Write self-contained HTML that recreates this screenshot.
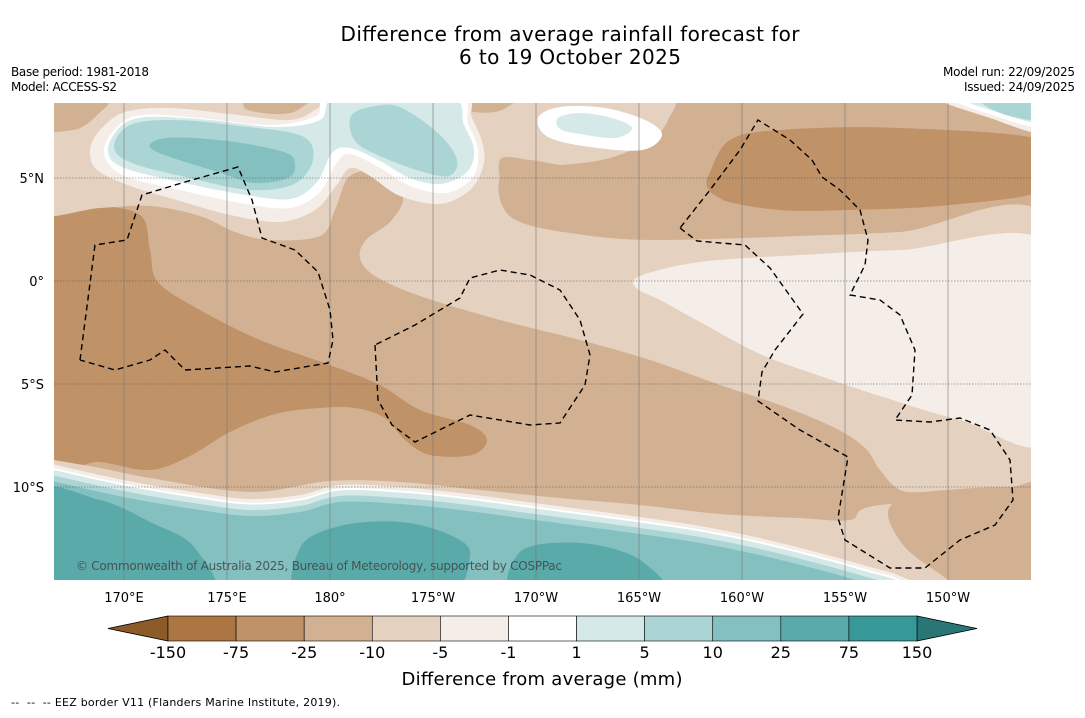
<!DOCTYPE html>
<html><head><meta charset="utf-8"><style>
body{margin:0;background:#fff;width:1085px;height:713px;overflow:hidden;font-family:"Liberation Sans","DejaVu Sans",sans-serif}
svg text{font-family:"DejaVu Sans","Liberation Sans",sans-serif}
</style></head><body>
<svg id="s" width="1085" height="713" viewBox="0 0 1085 713" xmlns="http://www.w3.org/2000/svg">
<defs><clipPath id="mc"><rect x="54" y="103" width="977" height="477"/></clipPath></defs>
<text x="570" y="41" font-size="20" textLength="459" text-anchor="middle">Difference from average rainfall forecast for</text>
<text x="570" y="64" font-size="20" textLength="222" text-anchor="middle">6 to 19 October 2025</text>
<text x="11" y="76" font-size="12" textLength="138">Base period: 1981-2018</text>
<text x="11" y="91" font-size="12" textLength="106">Model: ACCESS-S2</text>
<text x="1075" y="76" font-size="12" text-anchor="end" textLength="132">Model run: 22/09/2025</text>
<text x="1075" y="91" font-size="12" text-anchor="end" textLength="111">Issued: 24/09/2025</text>
<g id="map" clip-path="url(#mc)"></g>
<g id="grid"></g>
<g id="eez" clip-path="url(#mc)"></g>
<text x="76" y="570" font-size="12" textLength="486" fill="#444" opacity="0.85">© Commonwealth of Australia 2025, Bureau of Meteorology, supported by COSPPac</text>
<g id="axes"></g>
<g id="cbar"></g>
<text x="542" y="685" font-size="18" text-anchor="middle" textLength="281">Difference from average (mm)</text>
<text x="11" y="706" font-size="11" xml:space="preserve" textLength="329">--  --  -- EEZ border V11 (Flanders Marine Institute, 2019).</text>
</svg>
<script>
const levelLabels=["-150","-75","-25","-10","-5","-1","1","5","10","25","75","150"];
const levelColors=["#ab7642","#bf9268","#d2b192","#e4d1bf","#f4ede8","#ffffff","#d4e9e8","#abd5d4","#83c0bf","#5aaaaa","#369998"];
const extendColors=["#8d5a29","#2a7676"];
const lonTicks=[170,175,180,185,190,195,200,205,210];
const lonLabels=["170°E","175°E","180°","175°W","170°W","165°W","160°W","155°W","150°W"];
const latTicks=[5,0,-5,-10];
const latLabels=["5°N","0°","5°S","10°S"];
const NS="http://www.w3.org/2000/svg";
const X=lon=>124+(lon-170)*20.6, Y=lat=>281-lat*20.6;
function mk(tag,attrs,parent){const e=document.createElementNS(NS,tag);for(const k in attrs)e.setAttribute(k,attrs[k]);parent.appendChild(e);return e;}
function smooth(p,closed){let d="M"+p[0][0]+","+p[0][1];const n=p.length;for(let i=0;i<(closed?n:n-1);i++){const p0=p[(i-1+n)%n],p1=p[i],p2=p[(i+1)%n],p3=p[(i+2)%n];const a=closed||i>0?p0:p1,b=closed||i<n-2?p3:p2;d+=" C"+(p1[0]+(p2[0]-a[0])/6)+","+(p1[1]+(p2[1]-a[1])/6)+" "+(p2[0]-(b[0]-p1[0])/6)+","+(p2[1]-(b[1]-p1[1])/6)+" "+p2[0]+","+p2[1];}return d+(closed?"Z":"");}
const map=document.getElementById('map');
function area(pts,col,name){const e=mk('path',{d:smooth(pts,true),fill:col},map);}
const bg=mk('rect',{x:54,y:103,width:977,height:477,fill:levelColors[2]},map);


area([[30,205],[90,205],[140,215],[150,250],[158,282],[200,310],[260,340],[330,365],[380,385],[420,410],[470,425],[487,440],[472,455],[430,455],[405,440],[385,418],[355,408],[320,408],[275,414],[230,432],[190,456],[150,470],[100,462],[30,455]],levelColors[1],'dark-region-west');
area([[30,143],[80,128],[105,108],[125,95],[230,95],[248,110],[290,113],[330,95],[430,95],[452,108],[495,112],[540,95],[665,95],[668,120],[650,140],[610,158],[560,165],[520,163],[500,178],[502,205],[520,222],[570,233],[650,240],[800,236],[900,232],[1050,222],[1050,495],[990,492],[930,492],[900,490],[880,470],[865,448],[835,428],[780,405],[720,385],[650,360],[580,340],[500,320],[420,296],[375,276],[360,258],[366,240],[390,222],[403,200],[395,180],[370,171],[348,178],[335,210],[320,236],[270,240],[235,232],[200,216],[150,206],[100,208],[30,213]],levelColors[3],'light-region-main');
area([[710,172],[730,140],[780,130],[900,128],[1050,142],[1050,188],[950,205],[850,210],[780,210],[722,200],[707,186]],levelColors[1],'dark-region-east');
area([[500,160],[530,160],[560,165],[600,170],[640,178],[700,170],[708,190],[730,210],[640,212],[560,210],[510,200]],levelColors[2],'tan-patch');
area([[640,276],[700,262],[800,255],[900,250],[1050,246],[1050,437],[960,420],[880,396],[820,376],[760,354],[700,322],[660,300],[636,288]],levelColors[4],'pale-region-east');
area([[90,150],[100,130],[125,112],[170,108],[230,114],[290,120],[318,108],[335,95],[458,95],[472,118],[483,145],[483,167],[470,190],[440,204],[400,196],[370,176],[350,168],[336,186],[315,210],[280,222],[230,215],[180,201],[130,186],[97,170]],levelColors[4],'pale-north-west');
area([[104,152],[116,128],[141,115],[200,118],[270,125],[316,116],[333,95],[454,95],[468,124],[478,150],[473,177],[446,193],[410,186],[380,168],[350,154],[336,164],[320,192],[290,208],[240,203],[180,190],[122,175]],levelColors[5],'white-north-west');
area([[108,150],[121,126],[148,117],[210,120],[275,127],[320,120],[340,95],[448,95],[464,125],[474,150],[467,172],[441,184],[410,178],[380,161],[350,148],[332,153],[317,182],[290,199],[240,194],[180,182],[122,167]],levelColors[6],'wet-light-north-west');
area([[114,147],[130,125],[175,120],[240,126],[302,136],[313,160],[294,184],[250,190],[190,178],[132,163]],levelColors[7],'wet-mid-west-lobe');
area([[351,116],[375,106],[402,108],[440,135],[457,160],[449,176],[420,171],[380,156],[355,141]],levelColors[7],'wet-mid-east-lobe');
area([[153,150],[167,138],[227,141],[284,152],[295,164],[288,178],[254,183],[221,173]],levelColors[8],'wet-core-west');
area([[538,118],[560,107],[605,108],[645,120],[662,135],[642,150],[590,147],[548,137]],levelColors[5],'white-north-central');
area([[558,118],[580,113],[612,118],[632,128],[616,138],[580,134],[560,129]],levelColors[6],'wet-north-central');
area([[935,95],[990,118],[1050,134],[1050,95]],levelColors[4],'pale-north-east');
area([[948,95],[995,116],[1050,128],[1050,95]],levelColors[5],'white-north-east');
area([[958,95],[1000,113],[1050,124],[1050,95]],levelColors[6],'wet-light-north-east');
area([[978,95],[1003,114],[1050,120],[1050,95]],levelColors[7],'wet-mid-north-east');
const T=[[30,456],[100,468],[150,478],[250,492],[330,481],[400,482],[480,490],[560,498],[640,505],[720,514],[800,518],[850,520],[880,505],[1050,495]];
const C=[[30,466],[100,482],[150,492],[200,500],[250,506],[300,502],[340,492],[400,494],[460,500],[520,508],[580,516],[640,524],[700,533],[760,545],[820,560],[870,574],[900,583],[960,610],[1050,640]];
function band(curve,dy,col,name){const pts=curve.map(p=>[p[0],p[1]+dy]);const d=smooth(pts,false)+" L1060,700 L20,700 Z";const e=mk('path',{d:d,fill:col},map);}
band(T,0,levelColors[3],'light-band-south');
area([[888,512],[910,495],[960,489],[1010,487],[1050,489],[1050,600],[980,600],[940,574],[904,546]],levelColors[2],'tan-region-south-east');
band(C,-7,levelColors[4],'pale-band-south');
band(C,-3.5,levelColors[5],'white-band-south');
band(C,-1.5,levelColors[6],'wet-light-band-south');
band(C,4,levelColors[7],'wet-mid-band-south');
band(C,10,levelColors[8],'wet-band-south');
area([[30,492],[100,500],[150,522],[195,548],[205,600],[30,600]],levelColors[9],'wet-core-south-west');
area([[300,548],[340,526],[400,522],[450,535],[470,556],[440,600],[305,600]],levelColors[9],'wet-core-south-central');
area([[520,552],[580,543],[640,560],[662,600],[520,600]],levelColors[9],'wet-core-south-east');
const grid=document.getElementById('grid');
lonTicks.forEach(l=>{const e=mk('line',{x1:X(l),x2:X(l),y1:103,y2:580,stroke:'#777','stroke-width':0.6},grid);});
latTicks.forEach(l=>{const e=mk('line',{x1:54,x2:1031,y1:Y(l),y2:Y(l),stroke:'#555','stroke-width':0.6,'stroke-dasharray':'1.5 1.5'},grid);});
const eez=document.getElementById('eez');
const eezLoops=[
[[80,360],[95,245],[127,240],[142,195],[185,182],[238,167],[252,200],[262,238],[295,250],[318,272],[330,310],[333,340],[328,363],[275,372],[250,366],[185,370],[165,350],[150,360],[115,370],[80,360]],
[[375,345],[378,400],[392,425],[415,442],[470,415],[530,425],[560,423],[585,385],[590,355],[580,320],[560,290],[530,275],[500,270],[470,278],[460,298],[415,325],[375,345]],
[[680,228],[697,241],[745,245],[770,268],[803,314],[775,350],[762,372],[758,401],[800,430],[848,457],[838,518],[845,540],[890,568],[925,568],[960,540],[995,525],[1013,500],[1010,460],[990,430],[960,418],[930,422],[895,420],[912,395],[915,350],[900,315],[880,300],[850,295],[865,265],[868,240],[860,210],[840,190],[822,177],[812,160],[790,140],[758,120],[740,150],[710,190],[680,228]]];
eezLoops.forEach(p=>{const e=mk('polyline',{points:p.map(q=>q.join(',')).join(' '),fill:'none',stroke:'#000','stroke-width':1.4,'stroke-dasharray':'6 4'},eez);});
const ax=document.getElementById('axes');
lonTicks.forEach((l,i)=>{const t=mk('text',{x:X(l),y:602,'font-size':13,'text-anchor':'middle'},ax);t.textContent=lonLabels[i];});
latTicks.forEach((l,i)=>{const t=mk('text',{x:44,y:Y(l)+5,'font-size':13,'text-anchor':'end'},ax);t.textContent=latLabels[i];});
const cb=document.getElementById('cbar');
const cx0=168,cx1=917,cy0=616,cy1=641,bw=(cx1-cx0)/levelColors.length;
const la=mk('polygon',{points:`108,${(cy0+cy1)/2} ${cx0},${cy0} ${cx0},${cy1}`,fill:extendColors[0],stroke:'#000','stroke-width':0.8},cb);


const ra=mk('polygon',{points:`977,${(cy0+cy1)/2} ${cx1},${cy0} ${cx1},${cy1}`,fill:extendColors[1],stroke:'#000','stroke-width':0.8},cb);


levelColors.forEach((c,i)=>{const r=mk('rect',{x:cx0+i*bw,y:cy0,width:bw,height:cy1-cy0,fill:c,stroke:'#000','stroke-width':0.6},cb);});
levelLabels.forEach((s,i)=>{const t=mk('text',{x:cx0+i*bw,y:658,'font-size':16,'text-anchor':'middle'},cb);t.textContent=s;});
</script>
</body></html>
